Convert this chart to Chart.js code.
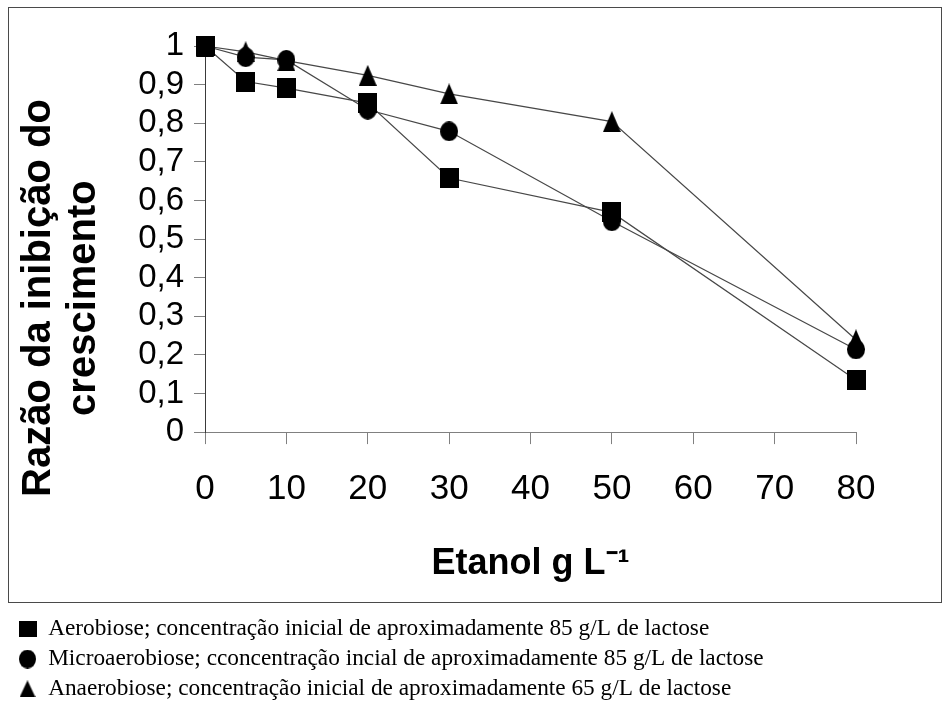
<!DOCTYPE html>
<html>
<head>
<meta charset="utf-8">
<script src="https://cdn.jsdelivr.net/npm/chart.js@4/dist/chart.umd.min.js"></script>
<style>
  html, body { margin: 0; padding: 0; background: #fff; }
  #wrap { width: 944px; height: 715px; position: relative; }
</style>
</head>
<body>
<div id="wrap"><canvas id="chart"></canvas></div>
<script>
// Ethanol concentration (g/L) and growth-inhibition ratio per condition
const etanol = [0, 5, 10, 20, 30, 50, 80];
const aerobiose = [1, 0.908, 0.891, 0.852, 0.658, 0.569, 0.135];
const microaerobiose = [1, 0.971, 0.964, 0.835, 0.779, 0.546, 0.214];
const anaerobiose = [1, 0.985, 0.962, 0.924, 0.876, 0.804, 0.239];

const yTickLabels = ['0', '0,1', '0,2', '0,3', '0,4', '0,5', '0,6', '0,7', '0,8', '0,9', '1'];
const xTitle = 'Etanol g L\u207B\u00B9';
const yTitleLines = ['Razão da inibição do', 'crescimento'];
const seriesLabels = [
  'Aerobiose; concentração inicial de aproximadamente 85 g/L de lactose',
  'Microaerobiose; cconcentração incial de aproximadamente 85 g/L de lactose',
  'Anaerobiose; concentração inicial de aproximadamente 65 g/L de lactose'
];

// Solid black marker shapes rendered once into small canvases
function marker(shape, w, h) {
  const c = document.createElement('canvas');
  c.width = w; c.height = h;
  const g = c.getContext('2d');
  g.fillStyle = '#000';
  g.beginPath();
  if (shape === 'square') {
    g.rect(0, 0, w, h);
  } else if (shape === 'circle') {
    g.ellipse(w / 2, h / 2, w / 2, h / 2, 0, 0, Math.PI * 2);
  } else {
    g.moveTo(w / 2, 0);
    g.lineTo(w, h);
    g.lineTo(0, h);
    g.closePath();
  }
  g.fill();
  return c;
}
const plotMarkers = [marker('square', 19, 20), marker('circle', 18, 20), marker('triangle', 18, 21)];
const legendMarkers = [marker('square', 18, 16), marker('circle', 17, 19), marker('triangle', 16, 17)];

const seriesValues = [aerobiose, microaerobiose, anaerobiose];
const toPoints = vals => etanol.map((x, i) => ({ x, y: vals[i] }));

// connecting lines sit underneath every marker
const lineSets = seriesValues.map((vals, i) => ({
  label: seriesLabels[i] + ' (linha)',
  data: toPoints(vals),
  showLine: true,
  borderColor: '#474747',
  borderWidth: 1.2,
  pointRadius: 0,
  pointHoverRadius: 0,
  tension: 0,
  clip: false,
  order: 2
}));
const pointSets = seriesValues.map((vals, i) => ({
  label: seriesLabels[i],
  data: toPoints(vals),
  showLine: false,
  pointStyle: plotMarkers[i],
  pointRadius: 10,
  pointHoverRadius: 10,
  backgroundColor: '#000',
  borderColor: '#000',
  clip: false,
  order: 1
}));

const framePlugin = {
  id: 'frame',
  beforeDraw(chart) {
    const { ctx, width } = chart;
    ctx.save();
    ctx.fillStyle = '#fff';
    ctx.fillRect(0, 0, chart.width, chart.height);
    ctx.strokeStyle = '#4a4a4a';
    ctx.lineWidth = 1;
    const bottom = Math.round(chart.legend.top) - 8.5;
    ctx.strokeRect(8.5, 7.5, width - 11, bottom - 7.5);
    ctx.restore();
  }
};

const yTitlePlugin = {
  id: 'yTitle',
  afterDraw(chart) {
    const { ctx, chartArea } = chart;
    const s = chart.scales.y;
    ctx.save();
    ctx.font = 'bold 40px "Liberation Sans", Arial, sans-serif';
    ctx.fillStyle = '#000';
    ctx.textAlign = 'center';
    ctx.textBaseline = 'middle';
    ctx.translate(s.left + 27, (chartArea.top + chartArea.bottom) / 2 + 59);
    ctx.rotate(-Math.PI / 2);
    yTitleLines.forEach((t, i) => ctx.fillText(t, 0, i * 45));
    ctx.restore();
  }
};

new Chart(document.getElementById('chart'), {
  type: 'scatter',
  data: { datasets: [...lineSets, ...pointSets] },
  options: {
    responsive: true,
    maintainAspectRatio: false,
    animation: false,
    devicePixelRatio: 1,
    layout: { padding: { left: 12, right: 88, top: 46, bottom: 4.5 } },
    plugins: {
      tooltip: { enabled: false },
      legend: {
        display: true,
        position: 'bottom',
        align: 'start',
        onClick: () => {},
        labels: {
          usePointStyle: true,
          pointStyleWidth: 18,
          padding: 6.5,
          color: '#000',
          font: { family: '"Liberation Serif", "Times New Roman", serif', size: 23.3 },
          generateLabels: () => seriesLabels.map((text, i) => ({
            text,
            pointStyle: legendMarkers[i],
            fillStyle: '#000',
            strokeStyle: '#000',
            lineWidth: 0,
            hidden: false,
            datasetIndex: 3 + i
          }))
        }
      }
    },
    scales: {
      x: {
        type: 'linear',
        min: 0,
        max: 80,
        afterFit: s => { s.height = 179; },
        grid: { display: true, drawOnChartArea: false, drawTicks: true, tickLength: 12, color: '#808080', lineWidth: 1 },
        border: { display: true, color: '#808080', width: 1 },
        ticks: {
          stepSize: 10,
          padding: 27.5,
          color: '#000',
          autoSkip: false,
          maxRotation: 0,
          font: { family: '"Liberation Sans", Arial, sans-serif', size: 35, lineHeight: 1 },
          callback: v => String(v)
        },
        title: {
          display: true,
          text: xTitle,
          color: '#000',
          font: { family: '"Liberation Sans", Arial, sans-serif', size: 36, weight: 'bold' },
          padding: { top: 0, bottom: 25.5 }
        }
      },
      y: {
        type: 'linear',
        min: 0,
        max: 1,
        afterFit: s => { s.width = 193; },
        grid: { display: true, drawOnChartArea: false, drawTicks: true, tickLength: 11, color: '#808080', lineWidth: 1 },
        border: { display: true, color: '#3a3a3a', width: 1 },
        ticks: {
          stepSize: 0.1,
          padding: 10,
          color: '#000',
          autoSkip: false,
          font: { family: '"Liberation Sans", Arial, sans-serif', size: 33 },
          callback: (v, i) => yTickLabels[i]
        }
      }
    }
  },
  plugins: [framePlugin, yTitlePlugin]
});
</script>
</body>
</html>
